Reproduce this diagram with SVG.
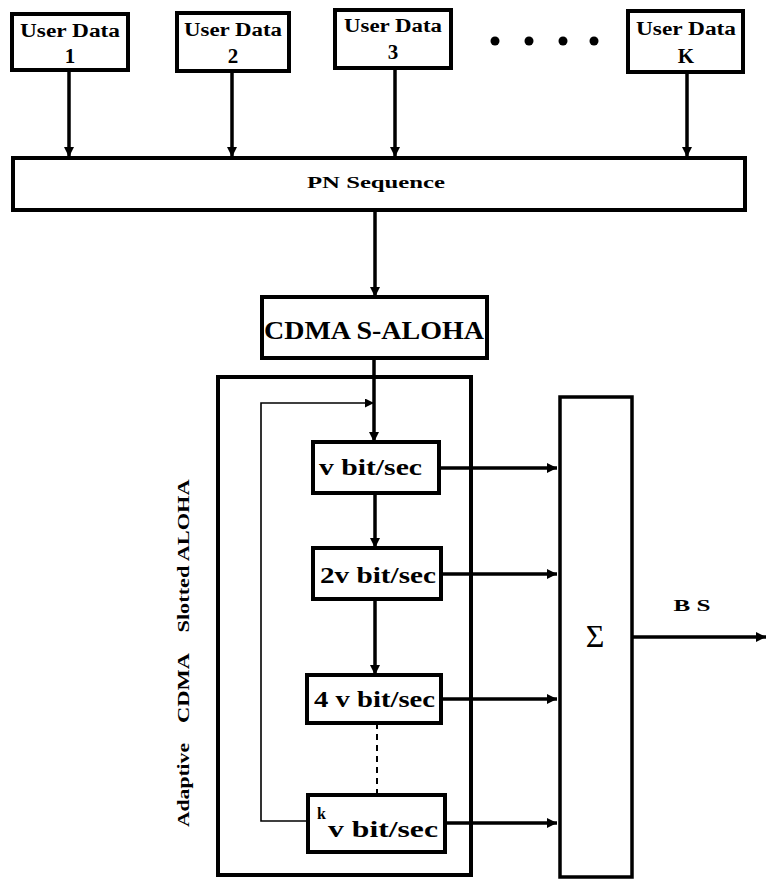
<svg xmlns="http://www.w3.org/2000/svg" width="766" height="879" viewBox="0 0 766 879">
  <style>
    .box { fill: #ffffff; stroke: #000000; stroke-width: 4; }
    .thin { fill: none; stroke: #000000; stroke-width: 1.6; }
    .conn { fill: none; stroke: #000000; stroke-width: 3.5; }
    text { font-family: 'Liberation Serif', 'Times New Roman', 'DejaVu Serif', serif; font-weight: bold; fill: #000000; }
    .ud { font-size: 18px; text-anchor: middle; }
    .num { font-size: 21px; text-anchor: middle; }
    .rate { font-size: 23px; }
    .side { font-size: 17px; text-anchor: middle; }
    .sigma { font-size: 32px; font-weight: normal; text-anchor: middle; }
  </style>
  <defs>
    <marker id="arr" viewBox="0 0 10 10" refX="10" refY="5" markerWidth="12" markerHeight="10" markerUnits="userSpaceOnUse" orient="auto">
      <path d="M0,0 L10,5 L0,10 z" fill="#000000"/>
    </marker>
    <marker id="arrs" viewBox="0 0 10 10" refX="10" refY="5" markerWidth="12" markerHeight="9" markerUnits="userSpaceOnUse" orient="auto">
      <path d="M0,0 L10,5 L0,10 z" fill="#000000"/>
    </marker>
  </defs>
  <rect x="0" y="0" width="766" height="879" fill="#ffffff"/>

  <g id="connectors">
    <line class="conn" x1="69" y1="70" x2="69" y2="157" marker-end="url(#arr)"/>
    <line class="conn" x1="232" y1="71" x2="232" y2="157" marker-end="url(#arr)"/>
    <line class="conn" x1="395" y1="68" x2="395" y2="157" marker-end="url(#arr)"/>
    <line class="conn" x1="687" y1="72" x2="687" y2="157" marker-end="url(#arr)"/>
    <line class="conn" x1="375" y1="210" x2="375" y2="297" marker-end="url(#arr)"/>
    <line class="conn" x1="374" y1="358" x2="374" y2="442" marker-end="url(#arr)"/>
    <polyline class="thin" points="308,821 261,821 261,403 374,403" marker-end="url(#arrs)"/>
    <line class="conn" x1="375" y1="493" x2="375" y2="548" marker-end="url(#arr)"/>
    <line class="conn" x1="375" y1="599" x2="375" y2="675" marker-end="url(#arr)"/>
    <line x1="377" y1="723" x2="377" y2="795" stroke="#000000" stroke-width="2" stroke-dasharray="6,5"/>
    <line class="conn" x1="439" y1="468" x2="557" y2="468" marker-end="url(#arr)"/>
    <line class="conn" x1="441" y1="574" x2="557" y2="574" marker-end="url(#arr)"/>
    <line class="conn" x1="441" y1="699" x2="557" y2="699" marker-end="url(#arr)"/>
    <line class="conn" x1="445" y1="823" x2="557" y2="823" marker-end="url(#arr)"/>
    <line class="conn" x1="632" y1="637" x2="766" y2="637" marker-end="url(#arr)"/>
  </g>

  <g id="user1">
    <rect class="box" x="12" y="14" width="116" height="56"/>
    <text class="ud" x="70" y="37" textLength="100" lengthAdjust="spacingAndGlyphs">User Data</text>
    <text class="num" x="70" y="63">1</text>
  </g>
  <g id="user2">
    <rect class="box" x="177" y="13" width="112" height="58"/>
    <text class="ud" x="233" y="36" textLength="98" lengthAdjust="spacingAndGlyphs">User Data</text>
    <text class="num" x="233" y="63">2</text>
  </g>
  <g id="user3">
    <rect class="box" x="335" y="10" width="116" height="58"/>
    <text class="ud" x="393" y="32" textLength="98" lengthAdjust="spacingAndGlyphs">User Data</text>
    <text class="num" x="393" y="59">3</text>
  </g>
  <g id="dots">
    <circle cx="495" cy="41" r="4.5" fill="#000000"/>
    <circle cx="529" cy="41" r="4.5" fill="#000000"/>
    <circle cx="563" cy="41" r="4.5" fill="#000000"/>
    <circle cx="594" cy="41" r="4.5" fill="#000000"/>
  </g>
  <g id="userK">
    <rect class="box" x="628" y="11" width="115" height="61"/>
    <text class="ud" x="686" y="35" textLength="100" lengthAdjust="spacingAndGlyphs">User Data</text>
    <text class="num" x="686" y="63">K</text>
  </g>

  <g id="pn">
    <rect class="box" x="13" y="158" width="732" height="52"/>
    <text x="376" y="188" font-size="16" text-anchor="middle" textLength="138" lengthAdjust="spacingAndGlyphs">PN Sequence</text>
  </g>

  <g id="cdma">
    <rect class="box" x="262" y="297" width="225" height="61"/>
    <text x="374" y="339" font-size="26" text-anchor="middle" textLength="220" lengthAdjust="spacingAndGlyphs">CDMA S-ALOHA</text>
  </g>

  <g id="adaptive">
    <rect x="218" y="377" width="253" height="498" fill="none" stroke="#000000" stroke-width="4"/>
    <text class="side" x="189" y="556" transform="rotate(-90 189 556)" textLength="153" lengthAdjust="spacingAndGlyphs">Slotted ALOHA</text>
    <text class="side" x="189" y="688" transform="rotate(-90 189 688)" textLength="70" lengthAdjust="spacingAndGlyphs">CDMA</text>
    <text class="side" x="189" y="785" transform="rotate(-90 189 785)" textLength="84" lengthAdjust="spacingAndGlyphs">Adaptive</text>
  </g>

  <g id="rate1">
    <rect class="box" x="313" y="442" width="126" height="51"/>
    <text class="rate" x="319" y="475" textLength="103" lengthAdjust="spacingAndGlyphs">v bit/sec</text>
  </g>
  <g id="rate2">
    <rect class="box" x="313" y="548" width="128" height="51"/>
    <text class="rate" x="320" y="583" textLength="116" lengthAdjust="spacingAndGlyphs">2v bit/sec</text>
  </g>
  <g id="rate4">
    <rect class="box" x="307" y="675" width="134" height="48"/>
    <text class="rate" x="314" y="707" textLength="121" lengthAdjust="spacingAndGlyphs">4 v bit/sec</text>
  </g>
  <g id="ratek">
    <rect class="box" x="308" y="795" width="137" height="57"/>
    <text x="317" y="819" font-size="16">k</text>
    <text class="rate" x="328" y="837" textLength="110" lengthAdjust="spacingAndGlyphs">v bit/sec</text>
  </g>

  <g id="sum">
    <rect x="560" y="397" width="72" height="480" fill="#ffffff" stroke="#000000" stroke-width="3.5"/>
    <text class="sigma" x="595" y="647">Σ</text>
  </g>
  <g id="bs-label">
    <text x="692" y="611" font-size="17" text-anchor="middle" textLength="37" lengthAdjust="spacingAndGlyphs">B S</text>
  </g>
</svg>
